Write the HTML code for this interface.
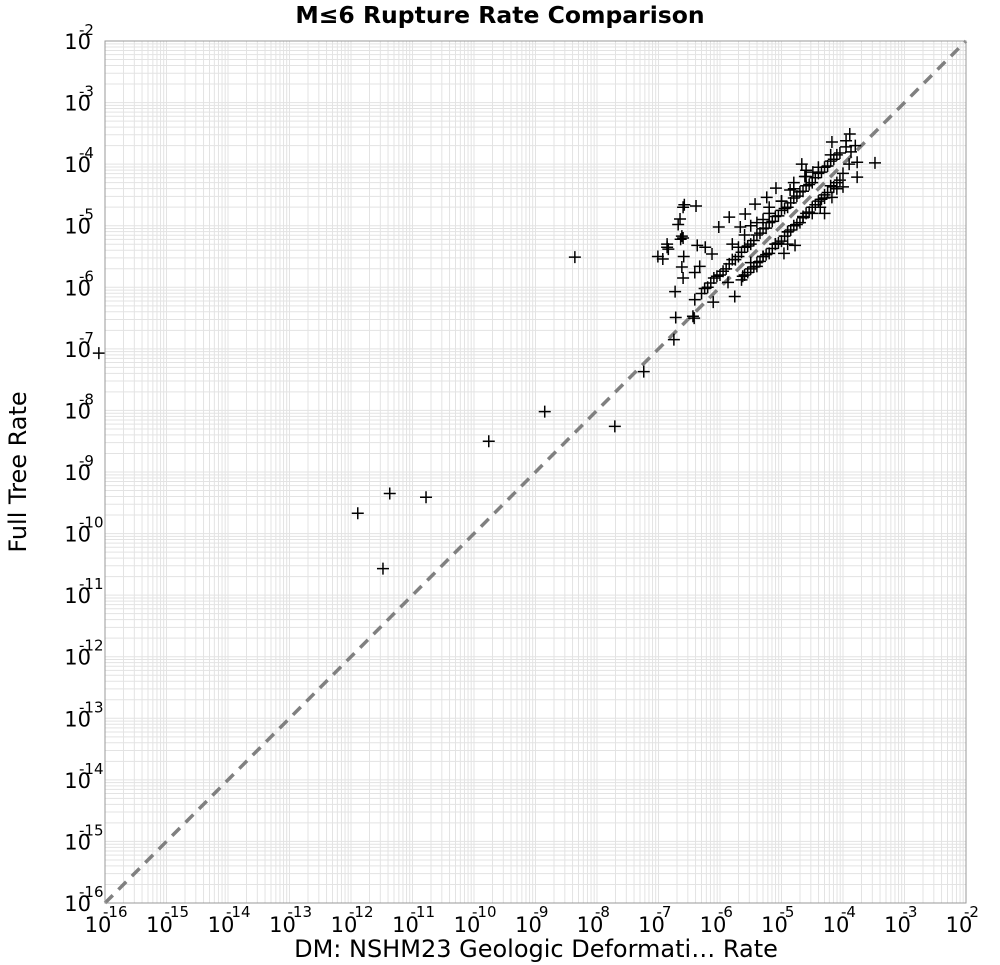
<!DOCTYPE html>
<html><head><meta charset="utf-8"><style>
body{margin:0;background:#fff;font-family:"Liberation Sans","DejaVu Sans",sans-serif;}
svg{display:block}
</style></head><body>
<svg id="chart" width="1000" height="965" xmlns="http://www.w3.org/2000/svg">
<text x="500" y="23" text-anchor="middle" font-family="DejaVu Sans, sans-serif" font-weight="bold" font-size="23.5">M≤6 Rupture Rate Comparison</text>
<text x="536" y="957" text-anchor="middle" font-family="DejaVu Sans, sans-serif" font-size="24">DM: NSHM23 Geologic Deformati… Rate</text>
<text transform="translate(26,472) rotate(-90)" text-anchor="middle" font-family="DejaVu Sans, sans-serif" font-size="24">Full Tree Rate</text>
<g id="grid"></g><g id="ticks"></g><g id="refline"></g><g id="points"></g>
<rect x="105" y="41" width="861" height="862" fill="none" stroke="#999" stroke-width="1"/>
</svg>
<script>
const logMin=-16, logMax=-2;
const tickExps=[-16,-15,-14,-13,-12,-11,-10,-9,-8,-7,-6,-5,-4,-3,-2];
const xLog=[-3.89,-4.18,-3.95,-3.48,-3.77,-3.87,-4.67,-5.09,-4.86,-6.39,-6.65,-6.68,-6.62,-6.86,-7.01,-6.93,-6.59,-6.62,-6.60,-6.73,-6.37,-6.24,-6.13,-6.33,-6.41,-6.02,-5.85,-5.67,-5.59,-5.43,-5.24,-6.41,-6.44,-6.11,-5.76,-5.87,-5.63,-5.40,-5.30,-4.78,-4.96,-4.65,-4.37,-4.18,-4.0,-3.77,-4.62,-4.49,
-6.3,-6.2,-6.1,-6.0,-5.9,-5.8,-5.7,-5.6,-5.5,-5.4,-5.3,-5.2,-5.1,-5.0,-4.9,-4.8,-4.7,-4.6,-4.5,-4.4,-4.3,-4.2,-4.1,
-5.6,-5.5,-5.4,-5.3,-5.2,-5.1,-5.0,-4.9,-4.8,-4.7,-4.6,-4.5,-4.4,-4.3,-4.2,-4.1,-4.0,
-5.5,-5.3,-5.0,-4.8,-4.6,-5.8,-5.2,-4.9,-4.3,-4.1,-3.9,-3.8,
-6.86,-6.84,-6.58,-6.60,-6.6,-6.64,
-6.25,-6.15,-6.05,-5.95,-5.85,-5.75,-5.65,-5.55,-5.45,-5.35,-5.25,-5.15,-5.05,-4.95,-4.85,-4.75,-4.65,-4.55,-4.45,-4.35,-4.25,-4.15,-4.05,-3.95,
-5.65,-5.55,-5.45,-5.35,-5.25,-5.15,-5.05,-4.95,-4.85,-4.75,-4.65,-4.55,-4.45,-4.35,-4.25,-4.15,-4.05,
-5.6,-5.4,-5.2,-5.0,-4.8,-4.6,-4.4,-4.2,-5.7,-5.5,-5.1,-4.9,-4.5,-4.3,
-8.36,-8.85,-9.76,-7.71,-7.24,-6.75,-6.72,-6.42,-11.89,-11.37,-10.78,-11.48,-16.1];
const yLog=[-3.51,-3.64,-3.62,-3.98,-3.97,-3.80,-4.00,-4.39,-4.42,-4.68,-4.89,-4.98,-5.17,-5.35,-5.50,-5.54,-5.50,-5.67,-5.85,-6.07,-5.32,-5.35,-5.46,-5.66,-5.76,-5.02,-4.86,-5.02,-4.81,-4.65,-4.54,-6.20,-6.47,-6.24,-6.15,-5.92,-5.82,-5.66,-5.50,-5.32,-5.45,-4.85,-4.70,-4.54,-4.37,-4.21,-4.20,-4.13,
-6.1,-6.0,-5.85,-5.8,-5.7,-5.55,-5.5,-5.35,-5.3,-5.15,-5.05,-4.95,-4.85,-4.75,-4.7,-4.55,-4.45,-4.35,-4.3,-4.15,-4.05,-3.95,-3.85,
-5.8,-5.7,-5.6,-5.5,-5.45,-5.3,-5.25,-5.1,-5.0,-4.95,-4.8,-4.7,-4.6,-4.5,-4.35,-4.3,-4.15,
-5.0,-4.9,-4.6,-4.3,-4.1,-5.3,-4.7,-5.3,-4.8,-4.4,-4.0,-3.7,
-5.3,-5.38,-4.66,-4.7,-5.2,-5.22,
-6.02,-5.93,-5.82,-5.74,-5.62,-5.55,-5.43,-5.33,-5.24,-5.12,-5.04,-4.93,-4.84,-4.72,-4.63,-4.52,-4.44,-4.33,-4.22,-4.13,-4.03,-3.92,-3.82,-3.72,
-5.88,-5.76,-5.67,-5.58,-5.47,-5.37,-5.28,-5.17,-5.07,-4.98,-4.87,-4.78,-4.66,-4.57,-4.46,-4.37,-4.26,
-5.15,-4.95,-4.8,-4.6,-4.4,-4.2,-4.05,-3.85,-5.35,-5.6,-5.3,-5.1,-4.8,-4.55,
-5.51,-8.02,-8.50,-8.26,-7.37,-6.85,-6.49,-6.50,-9.67,-9.35,-9.41,-10.57,-7.07];
const L=105,R=966,T=41,B=903;
const sx=v=>L+(v-logMin)/(logMax-logMin)*(R-L);
const sy=v=>B-(v-logMin)/(logMax-logMin)*(B-T);
const NS="http://www.w3.org/2000/svg";
function mk(tag,attrs,parent){const e=document.createElementNS(NS,tag);for(const k in attrs)e.setAttribute(k,attrs[k]);parent.appendChild(e);return e;}
const grid=document.getElementById('grid');
for(let d=logMin;d<logMax;d++){for(let m=1;m<10;m++){const v=d+Math.log10(m);
 const gx=mk('line',{x1:sx(v),x2:sx(v),y1:T,y2:B,stroke:'#e3e3e3','stroke-width':1},grid);
 
 
 const gy=mk('line',{x1:L,x2:R,y1:sy(v),y2:sy(v),stroke:'#e3e3e3','stroke-width':1},grid);
 
 }}
const ticks=document.getElementById('ticks');
const F='DejaVu Sans, sans-serif';
tickExps.forEach(e=>{
 const x=sx(e);
 const t=mk('text',{x:x-7,y:932,'text-anchor':'middle','font-size':21,'font-family':F},ticks);
 
 
 t.textContent='10';
 const s=mk('text',{x:x-2,y:917,'text-anchor':'start','font-size':15,'font-family':F},ticks);
 
 
 s.textContent=String(e);
 const y=sy(e);
 const u=mk('text',{x:91,y:y+8,'text-anchor':'end','font-size':21,'font-family':F},ticks);
 
 
 u.textContent='10';
 const v=mk('text',{x:79,y:y-6,'text-anchor':'start','font-size':15,'font-family':F},ticks);
 
 
 v.textContent=String(e);
});
const rl=mk('line',{x1:sx(logMin),y1:sy(logMin),x2:sx(logMax),y2:sy(logMax),stroke:'#808080','stroke-width':3.5,'stroke-dasharray':'11 8'},document.getElementById('refline'));


const pts=document.getElementById('points');
xLog.forEach((xv,i)=>{const x=sx(xv),y=sy(yLog[i]);
 const p=mk('path',{d:`M${x-6},${y}H${x+6}M${x},${y-6}V${y+6}`,stroke:'#000','stroke-width':1.5,fill:'none'},pts);
 
 
});
</script>
</body></html>
